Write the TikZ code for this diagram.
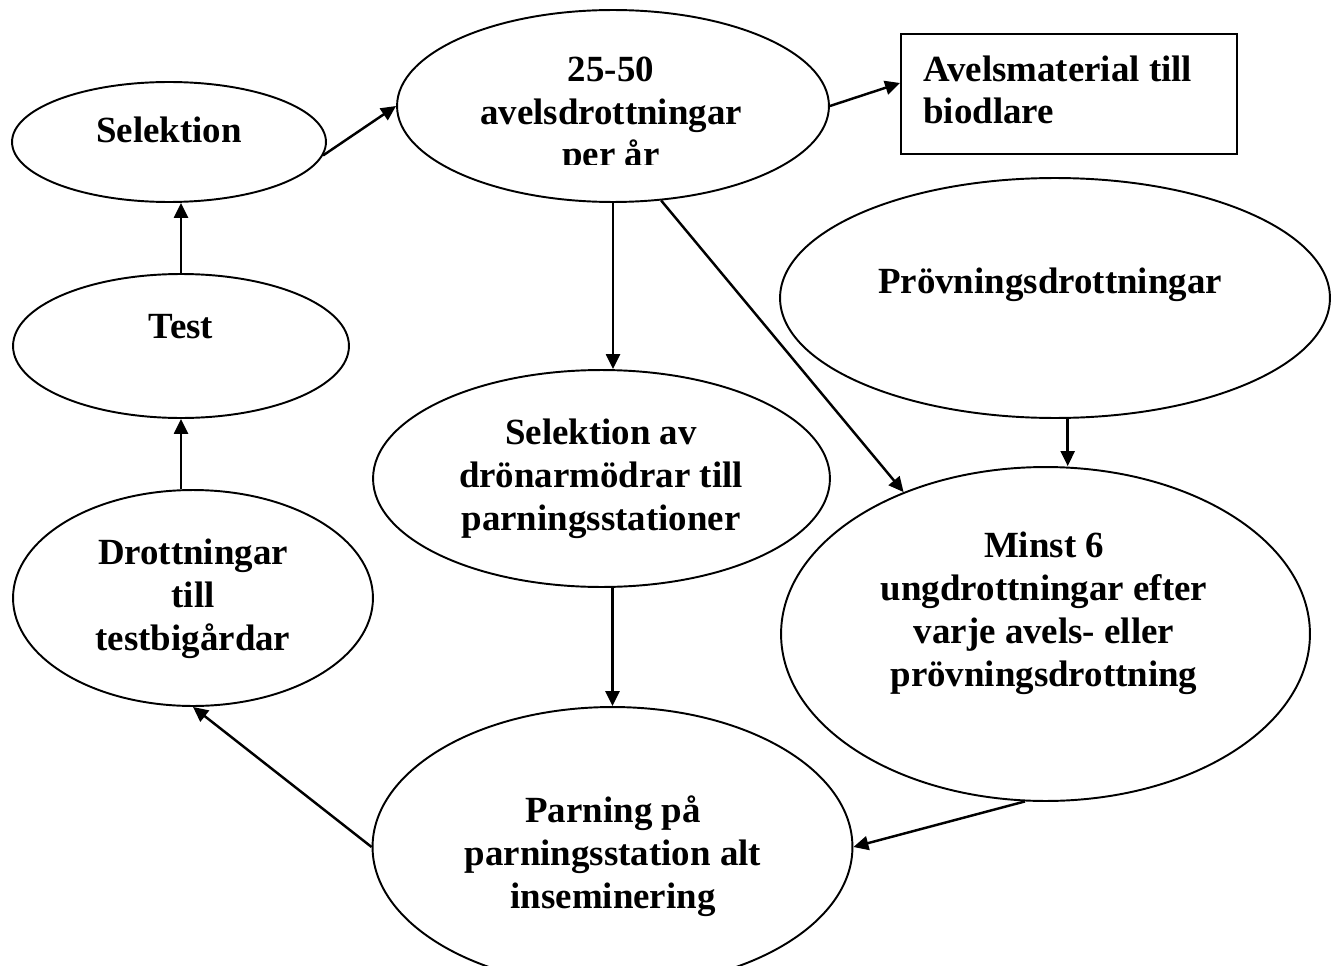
\documentclass[tikz,border=0pt]{standalone}
\usepackage{fontspec}
\setmainfont{Liberation Serif}
\usetikzlibrary{arrows.meta,
                shapes.geometric}

\begin{document}
\begin{tikzpicture}[x=0.02cm, y=-0.02cm,
blob/.style = {draw, ellipse, inner sep=0pt, line width=1.1pt},
lbl/.style  = {font=\fontsize{21}{24.4}\selectfont\bfseries,
               align=center, anchor=base, inner sep=0pt},
every edge/.style = {draw, -{Triangle[length=0.3cm, width=0.28cm]},
                     line width=1.4pt}
                    ]
\useasboundingbox (0,0) rectangle (1331,966);
% ovals and box
\node[blob, minimum width=6.28cm, minimum height=2.40cm] (sel) at (169,142) {};
\node[blob, minimum width=6.72cm, minimum height=2.88cm] (tst) at (181,346) {};
\node[blob, minimum width=7.20cm, minimum height=4.32cm] (drt) at (193,598) {};
\node[blob, minimum width=8.64cm, minimum height=3.84cm] (ave) at (613,106) {};
\node[blob, minimum width=11.0cm, minimum height=4.80cm] (prv) at (1055,298) {};
\node[blob, minimum width=9.14cm, minimum height=4.34cm] (sav) at (601.5,478.5) {};
\node[blob, minimum width=10.58cm, minimum height=6.68cm] (min) at (1045.5,634) {};
\node[blob, minimum width=9.60cm, minimum height=5.60cm] (par) at (612.5,847) {};
\node[draw, line width=1.1pt, minimum width=6.72cm, minimum height=2.40cm] (box) at (1069,94) {};
% texts (base = last line)
\node[lbl] (sel-t) at (169,143) {Selektion};
\node[lbl] (tst-t) at (181,338) {Test};
\node[lbl] (drt-t) at (193,650) {Drottningar\\till\\testbigårdar};
\begin{scope}
\clip (397,0) rectangle (829,165);
\node[lbl] (ave-t) at (611,167) {25-50\\avelsdrottningar\\per år};
\end{scope}
\node[lbl, align=left, anchor=base west] (box-t) at (923,124) {Avelsmaterial till\\biodlare};
\node[lbl] (prv-t) at (1050,293) {Prövningsdrottningar};
\node[lbl] (sav-t) at (601,530) {Selektion av\\drönarmödrar till\\parningsstationer};
\node[lbl] (min-t) at (1044,686) {Minst 6\\ungdrottningar efter\\varje avels- eller\\prövningsdrottning};
\node[lbl] (par-t) at (613,908) {Parning på\\parningsstation alt\\inseminering};
% arrows
\draw (sel.-5)  edge (ave.west)
      (ave.east) edge ([yshift=0.22cm]box.west)
      (ave.south) edge (ave.south |- sav.north)
      (ave.-63) edge (min.135)
      (prv.-84) edge (prv.-84 |- min.north)
      (min.-97) edge (par.east)
      (par.north |- sav.south) edge (par.north)
      (par.west) edge (drt.south)
      (tst.south |- drt.north) edge (tst.south)
      (tst.north) edge (tst.north |- sel.south);
\end{tikzpicture}
\end{document}
